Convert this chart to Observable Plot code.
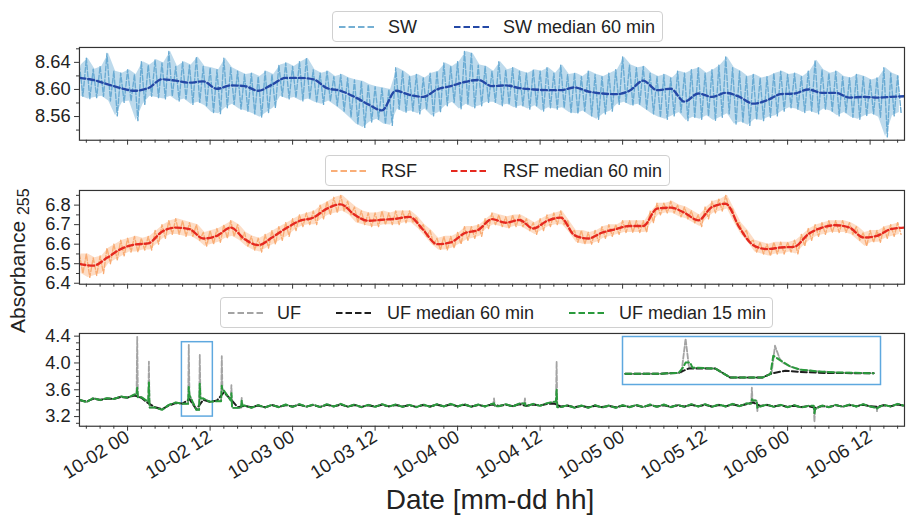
<!DOCTYPE html>
<html><head><meta charset="utf-8">
<script src="https://cdn.jsdelivr.net/npm/d3@7"></script>
<script src="https://cdn.jsdelivr.net/npm/@observablehq/plot@0.6"></script>
<style>
body{margin:0;overflow:hidden;background:#fff;font-family:"Liberation Sans",Arial,sans-serif;}
#root{position:relative;width:906px;height:517px;overflow:hidden;}
.abs{position:absolute;}
.legend{position:absolute;border:1px solid #d0d0d0;border-radius:4px;background:#fff;box-sizing:border-box;font-size:18px;color:#222;}
.legend .it{position:absolute;top:50%;transform:translateY(-50%);white-space:nowrap;line-height:1;}
.legend svg{position:absolute;top:50%;transform:translateY(-50%);}
</style></head>
<body><div id="root"></div>
<script>
// ---------------- data ----------------
const xTickLabels = ["10-02 00","10-02 12","10-03 00","10-03 12","10-04 00","10-04 12","10-05 00","10-05 12","10-06 00","10-06 12"];
// hourly raw envelope (upper / lower reading per hour) starting 10-01 17:00
const swHi = [8.636,8.646,8.630,8.634,8.653, 8.627,8.624,8.629,8.622,8.641, 8.636,8.644,8.639,8.656,8.634, 8.641,8.636,8.648,8.634,8.632,
 8.629,8.646,8.632,8.627, 8.622,8.624,8.619,8.627,8.622, 8.636,8.639,8.634,8.641,8.646, 8.629,8.624,8.627,8.619,8.622,
 8.617,8.614,8.612,8.607,8.604, 8.602,8.600,8.632,8.627, 8.619,8.622,8.617,8.624,8.627, 8.639,8.634,8.641,8.656,8.653, 8.636,8.634,
 8.627,8.641,8.629,8.632,8.627, 8.624,8.629,8.627,8.632,8.624, 8.636,8.622,8.624,8.619,8.627, 8.622,8.619,8.624,8.629,8.648,
 8.636,8.632,8.634,8.624,8.619, 8.622,8.617,8.627,8.624,8.629, 8.632,8.624,8.629,8.636,8.648, 8.632,8.627,8.619,8.622,8.617,
 8.619,8.624,8.627,8.622,8.624, 8.619,8.627,8.643,8.629,8.624, 8.627,8.619,8.617,8.622,8.619, 8.614,8.617,8.632,8.624,8.620];
const swLo = [8.590,8.586,8.588,8.590,8.583, 8.561,8.581,8.583,8.554,8.578, 8.590,8.588,8.586,8.590,8.583, 8.586,8.578,8.581,8.576,8.566,
 8.564,8.573,8.578,8.571, 8.568,8.564,8.559,8.566,8.573, 8.590,8.586,8.588,8.583,8.586, 8.581,8.578,8.583,8.576,8.568,
 8.559,8.549,8.544,8.552,8.556, 8.549,8.547,8.571,8.566, 8.568,8.564,8.571,8.561,8.566, 8.576,8.581,8.571,8.578,8.573, 8.576,8.581,
 8.581,8.576,8.578,8.573,8.576, 8.571,8.576,8.568,8.573,8.571, 8.573,8.566,8.564,8.568,8.561, 8.556,8.564,8.568,8.578,8.581,
 8.576,8.578,8.571,8.564,8.559, 8.556,8.561,8.566,8.554,8.559, 8.556,8.561,8.554,8.559,8.564, 8.549,8.552,8.547,8.556,8.554,
 8.559,8.561,8.568,8.573,8.571, 8.566,8.568,8.564,8.571,8.568, 8.561,8.566,8.559,8.556,8.561, 8.564,8.559,8.530,8.561,8.566];
// 60-min median, every 2 hours
const swMed60 = [8.617,8.614,8.608,8.602,8.598,8.602,8.615,8.613,8.610,8.612,8.601,8.606,8.605,8.598,8.607,8.617,8.617,8.615,8.602,8.598,
 8.589,8.578,8.569,8.598,8.592,8.589,8.600,8.605,8.611,8.614,8.605,8.606,8.602,8.600,8.599,8.599,8.603,8.597,8.594,8.593,
 8.598,8.613,8.599,8.601,8.582,8.594,8.589,8.595,8.589,8.579,8.584,8.593,8.594,8.600,8.595,8.595,8.588,8.589,8.588,8.589,8.590];

const rsfHi = [6.55,6.55,6.53,6.54,6.58,6.60,6.62,6.63,6.64,6.63, 6.64,6.67,6.70,6.72,6.73,6.72,6.71,6.70,6.66,6.67,
 6.68,6.70,6.72,6.70,6.66,6.64,6.63,6.65,6.67,6.69, 6.71,6.73,6.75,6.76,6.77,6.80,6.82,6.84,6.85,6.82,
 6.79,6.77,6.76,6.76,6.77,6.76,6.77,6.77,6.77,6.74, 6.70,6.67,6.63,6.64,6.64,6.66,6.69,6.69,6.70,6.73,
 6.76,6.75,6.74,6.75,6.75,6.73,6.71,6.73,6.75,6.76, 6.77,6.72,6.67,6.67,6.66,6.67,6.69,6.70,6.70,6.72,
 6.72,6.72,6.72,6.77,6.81,6.81,6.82,6.80,6.79,6.77, 6.75,6.79,6.82,6.83,6.85,6.78,6.71,6.67,6.62,6.61,
 6.60,6.61,6.61,6.61,6.62,6.65,6.68,6.70,6.71,6.72, 6.72,6.72,6.71,6.69,6.66,6.67,6.67,6.69,6.70,6.71];
const rsfLo = [6.45,6.43,6.44,6.45,6.50,6.52,6.54,6.56,6.56,6.57, 6.57,6.60,6.63,6.65,6.65,6.64,6.64,6.62,6.59,6.60,
 6.61,6.63,6.64,6.62,6.59,6.57,6.56,6.58,6.60,6.62, 6.64,6.67,6.69,6.70,6.70,6.73,6.75,6.76,6.77,6.75,
 6.71,6.70,6.69,6.69,6.70,6.70,6.70,6.71,6.71,6.68, 6.64,6.60,6.57,6.57,6.58,6.60,6.62,6.63,6.64,6.68,
 6.70,6.69,6.68,6.69,6.69,6.67,6.65,6.67,6.69,6.70, 6.70,6.66,6.61,6.60,6.60,6.61,6.63,6.64,6.65,6.66,
 6.66,6.66,6.66,6.71,6.75,6.76,6.76,6.74,6.73,6.71, 6.69,6.73,6.76,6.77,6.78,6.71,6.65,6.61,6.56,6.55,
 6.54,6.55,6.55,6.56,6.55,6.59,6.62,6.64,6.65,6.66, 6.66,6.66,6.65,6.62,6.59,6.61,6.61,6.63,6.64,6.65];
const rsfMed60 = [6.499,6.490,6.530,6.575,6.598,6.604,6.664,6.685,6.677,6.629, 6.643,6.685,6.626,6.595,6.634,6.680,6.719,6.736,6.782,6.804,
 6.751,6.720,6.725,6.730,6.740,6.673,6.600,6.609,6.656,6.673, 6.728,6.710,6.724,6.680,6.719,6.736,6.646,6.629,6.659,6.677,
 6.693,6.693,6.782,6.787,6.761,6.722,6.790,6.807,6.685,6.595, 6.575,6.583,6.587,6.651,6.685,6.697,6.685,6.634,6.643,6.677,6.685];

// UF hourly medians
const ufMed15 = [3.452,3.415,3.476,3.445,3.475,3.462,3.500,3.480,3.530,3.490,3.420,3.335,3.300,3.375,3.410,3.390,3.520,3.300,3.470,3.420,
 3.430,3.590,3.440,3.330,3.365,3.330,3.370,3.335,3.375,3.340,3.380,3.345,3.385,3.345,3.380,3.340,3.385,3.350,3.390,3.345,
 3.380,3.340,3.375,3.345,3.385,3.350,3.380,3.345,3.375,3.340,3.380,3.345,3.385,3.350,3.390,3.350,3.385,3.345,3.380,3.350,
 3.390,3.355,3.385,3.350,3.395,3.355,3.390,3.360,3.400,3.420,3.340,3.370,3.330,3.365,3.330,3.370,3.335,3.365,3.330,3.370,
 3.340,3.375,3.340,3.380,3.345,3.380,3.340,3.375,3.345,3.385,3.350,3.385,3.345,3.380,3.350,3.390,3.355,3.395,3.440,3.350,
 3.380,3.345,3.375,3.340,3.370,3.335,3.360,3.310,3.365,3.340,3.375,3.345,3.380,3.350,3.385,3.350,3.330,3.375,3.350,3.390,3.360];
const ufMed60 = [3.445,3.425,3.465,3.450,3.465,3.465,3.490,3.485,3.515,3.480,3.400,3.340,3.310,3.365,3.400,3.395,3.460,3.310,3.450,3.420,
 3.440,3.560,3.460,3.340,3.360,3.340,3.365,3.340,3.370,3.345,3.370,3.350,3.375,3.350,3.372,3.345,3.375,3.352,3.378,3.350,
 3.372,3.345,3.368,3.350,3.375,3.352,3.372,3.350,3.368,3.345,3.372,3.350,3.376,3.355,3.380,3.355,3.376,3.350,3.372,3.355,
 3.380,3.360,3.376,3.356,3.384,3.360,3.380,3.365,3.388,3.395,3.350,3.362,3.340,3.358,3.338,3.362,3.342,3.358,3.338,3.362,
 3.345,3.366,3.345,3.370,3.350,3.370,3.345,3.366,3.350,3.375,3.355,3.376,3.350,3.372,3.355,3.380,3.360,3.385,3.410,3.360,
 3.372,3.350,3.368,3.345,3.362,3.342,3.355,3.330,3.358,3.345,3.368,3.350,3.372,3.355,3.376,3.355,3.345,3.368,3.355,3.380,3.362];
// UF spikes: hour offset, raw peak, 15-min median peak
const ufSpikeHour  = [8.4, 10.1, 15.9, 17.5, 20.7, 22.1, 23.6, 60.3, 64.8, 69.4, 97.8, 98.6, 106.9, 116.0];
const ufSpikeRaw   = [4.39, 4.02, 4.27, 4.12, 4.10, 3.67, 3.48, 3.47, 3.47, 4.02, 3.63, 3.28, 3.12, 3.28];
const ufSpikeMed15 = [3.63, 3.71, 3.64, 3.69, 3.66, 3.55, 3.44, 3.40, 3.40, 3.60, 3.46, 3.33, 3.25, 3.32];
// zoomed window (box) and inset readings
const boxHours = [14.9, 19.4];
const boxValues = [3.2, 4.31];
const insetRawH = [14.95,15.56,15.88,15.93,16.0,16.06,16.12,16.52,16.78,17.34,17.48,17.50,17.56,17.64,17.70,17.83,18.0,18.35,18.7,19.28];
const insetRawV = [3.446,3.450,3.470,3.480,4.257,3.600,3.590,3.568,3.361,3.361,3.440,3.460,4.097,3.800,3.700,3.614,3.545,3.499,3.476,3.460];
const insetM15H = [14.95,15.56,15.88,15.96,16.0,16.08,16.12,16.52,16.78,17.34,17.48,17.53,17.66,17.83,18.0,18.35,18.7,19.28];
const insetM15V = [3.446,3.450,3.470,3.600,3.706,3.706,3.590,3.568,3.361,3.361,3.440,3.867,3.752,3.614,3.545,3.499,3.476,3.460];
const insetM60H = [14.95,15.56,15.88,16.05,16.52,16.78,17.34,17.48,17.74,18.0,18.5,19.28];
const insetM60V = [3.446,3.450,3.470,3.568,3.568,3.361,3.361,3.446,3.520,3.490,3.465,3.460];

// ---------------- helpers ----------------
const HOUR = 3600e3;
const t0 = Date.UTC(2020, 9, 1, 17);
const at = h => new Date(t0 + h * HOUR);
const xDomain = [at(0), at(120)];
const xMajor = xTickLabels.map(s => new Date(Date.UTC(2020, +s.slice(0,2) - 1, +s.slice(3,5), +s.slice(6,8))));
const xMinor = d3.utcHour.every(2).range(at(0), at(120)).filter(d => !xMajor.some(m => +m === +d));
const fmt = d3.utcFormat("%m-%d %H");
const FONT = "Liberation Sans, Arial, Helvetica, sans-serif";
const AX = "#333";

const rawTable = (hi, lo) => hi.flatMap((v, i) => [{t: at(i), v}, {t: at(i + 0.5), v: lo[i]}]);
const bandTable = (hi, lo) => hi.map((v, i) => ({t: at(i + 0.25), hi: v, lo: lo[i]}));
const medTable = (arr, step) => arr.map((v, i) => ({t: at(i * step), v}));
function withSpikes(base, peaks) {
  const pts = base.map((v, i) => ({h: i, v}));
  ufSpikeHour.forEach((h, k) => {
    pts.push({h: h - 0.1, v: base[Math.floor(h)]}, {h, v: peaks[k]}, {h: h + 0.1, v: base[Math.ceil(h)]});
  });
  return pts.sort((a, b) => a.h - b.h).map(p => ({t: at(p.h), v: p.v}));
}
const pairs = (H, V) => H.map((h, i) => ({t: at(h), v: V[i]}));

function xAxes(labels) {
  return [
    Plot.axisX({ticks: xMinor, tickSize: 3, tickFormat: () => "", stroke: AX, label: null}),
    labels
      ? Plot.axisX({ticks: xMajor, tickSize: 5, tickFormat: fmt, tickRotate: -32, fontSize: 19, tickPadding: 4, stroke: AX, fill: "#222", label: null})
      : Plot.axisX({ticks: xMajor, tickSize: 5, tickFormat: () => "", stroke: AX, label: null})
  ];
}
function yAxes(major, minor, f) {
  return [
    Plot.axisY({ticks: minor, tickSize: 3, tickFormat: () => "", stroke: AX, label: null}),
    Plot.axisY({ticks: major, tickSize: 5, tickPadding: 4, tickFormat: d3.format(f), fontSize: 18.5, stroke: AX, fill: "#222", label: null})
  ];
}
const dashRaw = "5,2";
const dashMed = "6,3";

function panel(top, h, mb, yDomain, marks) {
  const p = Plot.plot({
    width: 918, height: 2 + h + mb, marginLeft: 80, marginRight: 2, marginTop: 2, marginBottom: mb,
    style: {fontFamily: FONT, background: "transparent", overflow: "visible"},
    x: {type: "utc", domain: xDomain},
    y: {domain: yDomain},
    marks
  });
  p.style.position = "absolute"; p.style.left = "0px"; p.style.top = (top - 2) + "px";
  return p;
}
const root = document.getElementById("root");

// Panel 1 : SW
root.appendChild(panel(47, 94, 10, [8.525, 8.662], [
  Plot.areaY(bandTable(swHi, swLo), {x: "t", y1: "lo", y2: "hi", fill: "#86bbdc", fillOpacity: 0.55, clip: true}),
  Plot.line(rawTable(swHi, swLo), {x: "t", y: "v", stroke: "#6aabd3", strokeWidth: 1.4, strokeDasharray: dashRaw, clip: true}),
  Plot.line(medTable(swMed60, 2), {x: "t", y: "v", stroke: "#2448a6", strokeWidth: 2.4, strokeDasharray: dashMed, curve: "monotone-x", clip: true}),
  ...yAxes([8.56, 8.60, 8.64], [8.54, 8.58, 8.62, 8.66], ".2f"),
  ...xAxes(false),
  Plot.frame({stroke: AX, strokeWidth: 1.2})
]));

// Panel 2 : RSF
root.appendChild(panel(190, 95, 10, [6.395, 6.875], [
  Plot.areaY(bandTable(rsfHi, rsfLo), {x: "t", y1: "lo", y2: "hi", fill: "#fbbb8e", fillOpacity: 0.5, clip: true}),
  Plot.line(rawTable(rsfHi, rsfLo), {x: "t", y: "v", stroke: "#f9ac74", strokeWidth: 1.4, strokeDasharray: dashRaw, clip: true}),
  Plot.line(medTable(rsfMed60, 2), {x: "t", y: "v", stroke: "#e5291f", strokeWidth: 2.4, strokeDasharray: dashMed, curve: "monotone-x", clip: true}),
  ...yAxes([6.4, 6.5, 6.6, 6.7, 6.8], [6.45, 6.55, 6.65, 6.75, 6.85], ".1f"),
  ...xAxes(false),
  Plot.frame({stroke: AX, strokeWidth: 1.2})
]));

// Panel 3 : UF
root.appendChild(panel(333, 94, 60, [3.056, 4.44], [
  Plot.rect([{x1: at(boxHours[0]), x2: at(boxHours[1]), y1: boxValues[0], y2: boxValues[1]}],
    {x1: "x1", x2: "x2", y1: "y1", y2: "y2", fill: "none", stroke: "#5ea8df", strokeWidth: 1.5}),
  Plot.line(withSpikes(ufMed15, ufSpikeRaw), {x: "t", y: "v", stroke: "#a3a3a3", strokeWidth: 1.8, strokeDasharray: dashRaw, clip: true}),
  Plot.line(medTable(ufMed60, 1), {x: "t", y: "v", stroke: "#1e1e1e", strokeWidth: 2, strokeDasharray: dashMed, clip: true}),
  Plot.line(withSpikes(ufMed15, ufSpikeMed15), {x: "t", y: "v", stroke: "#2a9a3c", strokeWidth: 2, strokeDasharray: dashMed, clip: true}),
  ...yAxes([3.2, 3.6, 4.0, 4.4], [3.1, 3.3, 3.4, 3.5, 3.7, 3.8, 3.9, 4.1, 4.2, 4.3], ".1f"),
  ...xAxes(true),
  Plot.frame({stroke: AX, strokeWidth: 1.2})
]));

// Inset
const inset = Plot.plot({
  width: 258, height: 48, margin: 0,
  style: {background: "#fff", overflow: "visible"},
  x: {type: "utc", domain: [at(boxHours[0]), at(boxHours[1])], axis: null},
  y: {domain: boxValues, axis: null},
  marks: [
    Plot.line(pairs(insetRawH, insetRawV), {x: "t", y: "v", stroke: "#a3a3a3", strokeWidth: 1.8, strokeDasharray: dashRaw}),
    Plot.line(pairs(insetM60H, insetM60V), {x: "t", y: "v", stroke: "#1e1e1e", strokeWidth: 2, strokeDasharray: dashMed}),
    Plot.line(pairs(insetM15H, insetM15V), {x: "t", y: "v", stroke: "#2a9a3c", strokeWidth: 2, strokeDasharray: dashMed}),
    Plot.frame({stroke: "#5ea8df", strokeWidth: 1.5})
  ]
});
inset.style.position = "absolute"; inset.style.left = "622px"; inset.style.top = "336px";
root.appendChild(inset);

// Legends
function legend(left, top, width, items) {
  const d = document.createElement("div");
  d.className = "legend";
  Object.assign(d.style, {left: left + "px", top: top + "px", width: width + "px", height: "31px"});
  items.forEach(([sx, tx, color, label]) => {
    const s = `<svg width="36" height="6" style="left:${sx}px"><line x1="0" y1="3" x2="36" y2="3" stroke="${color}" stroke-width="2" stroke-dasharray="6.5,3"/></svg>`;
    d.insertAdjacentHTML("beforeend", s + `<span class="it" style="left:${tx}px">${label}</span>`);
  });
  root.appendChild(d);
}
legend(332, 11, 331, [[6, 55, "#74afd3", "SW"], [121, 170, "#2448a6", "SW median 60 min"]]);
legend(325, 155, 345, [[5, 55, "#f9ae78", "RSF"], [125, 177, "#e5291f", "RSF median 60 min"]]);
legend(220, 297, 553, [[7, 56, "#a3a3a3", "UF"], [115, 166, "#1e1e1e", "UF median 60 min"], [348, 398, "#2a9a3c", "UF median 15 min"]]);

// Axis titles
root.insertAdjacentHTML("beforeend",
  `<div class="abs" style="left:490px;top:486px;transform:translateX(-50%);font-size:28px;line-height:1;color:#222;white-space:nowrap;">Date [mm-dd hh]</div>` +
  `<div class="abs" style="left:7px;top:333px;transform-origin:0 0;transform:rotate(-90deg);font-size:21px;line-height:1;color:#222;white-space:nowrap;">Absorbance <span style="font-size:16px;position:relative;top:4px;">255</span></div>`);
</script></body></html>
